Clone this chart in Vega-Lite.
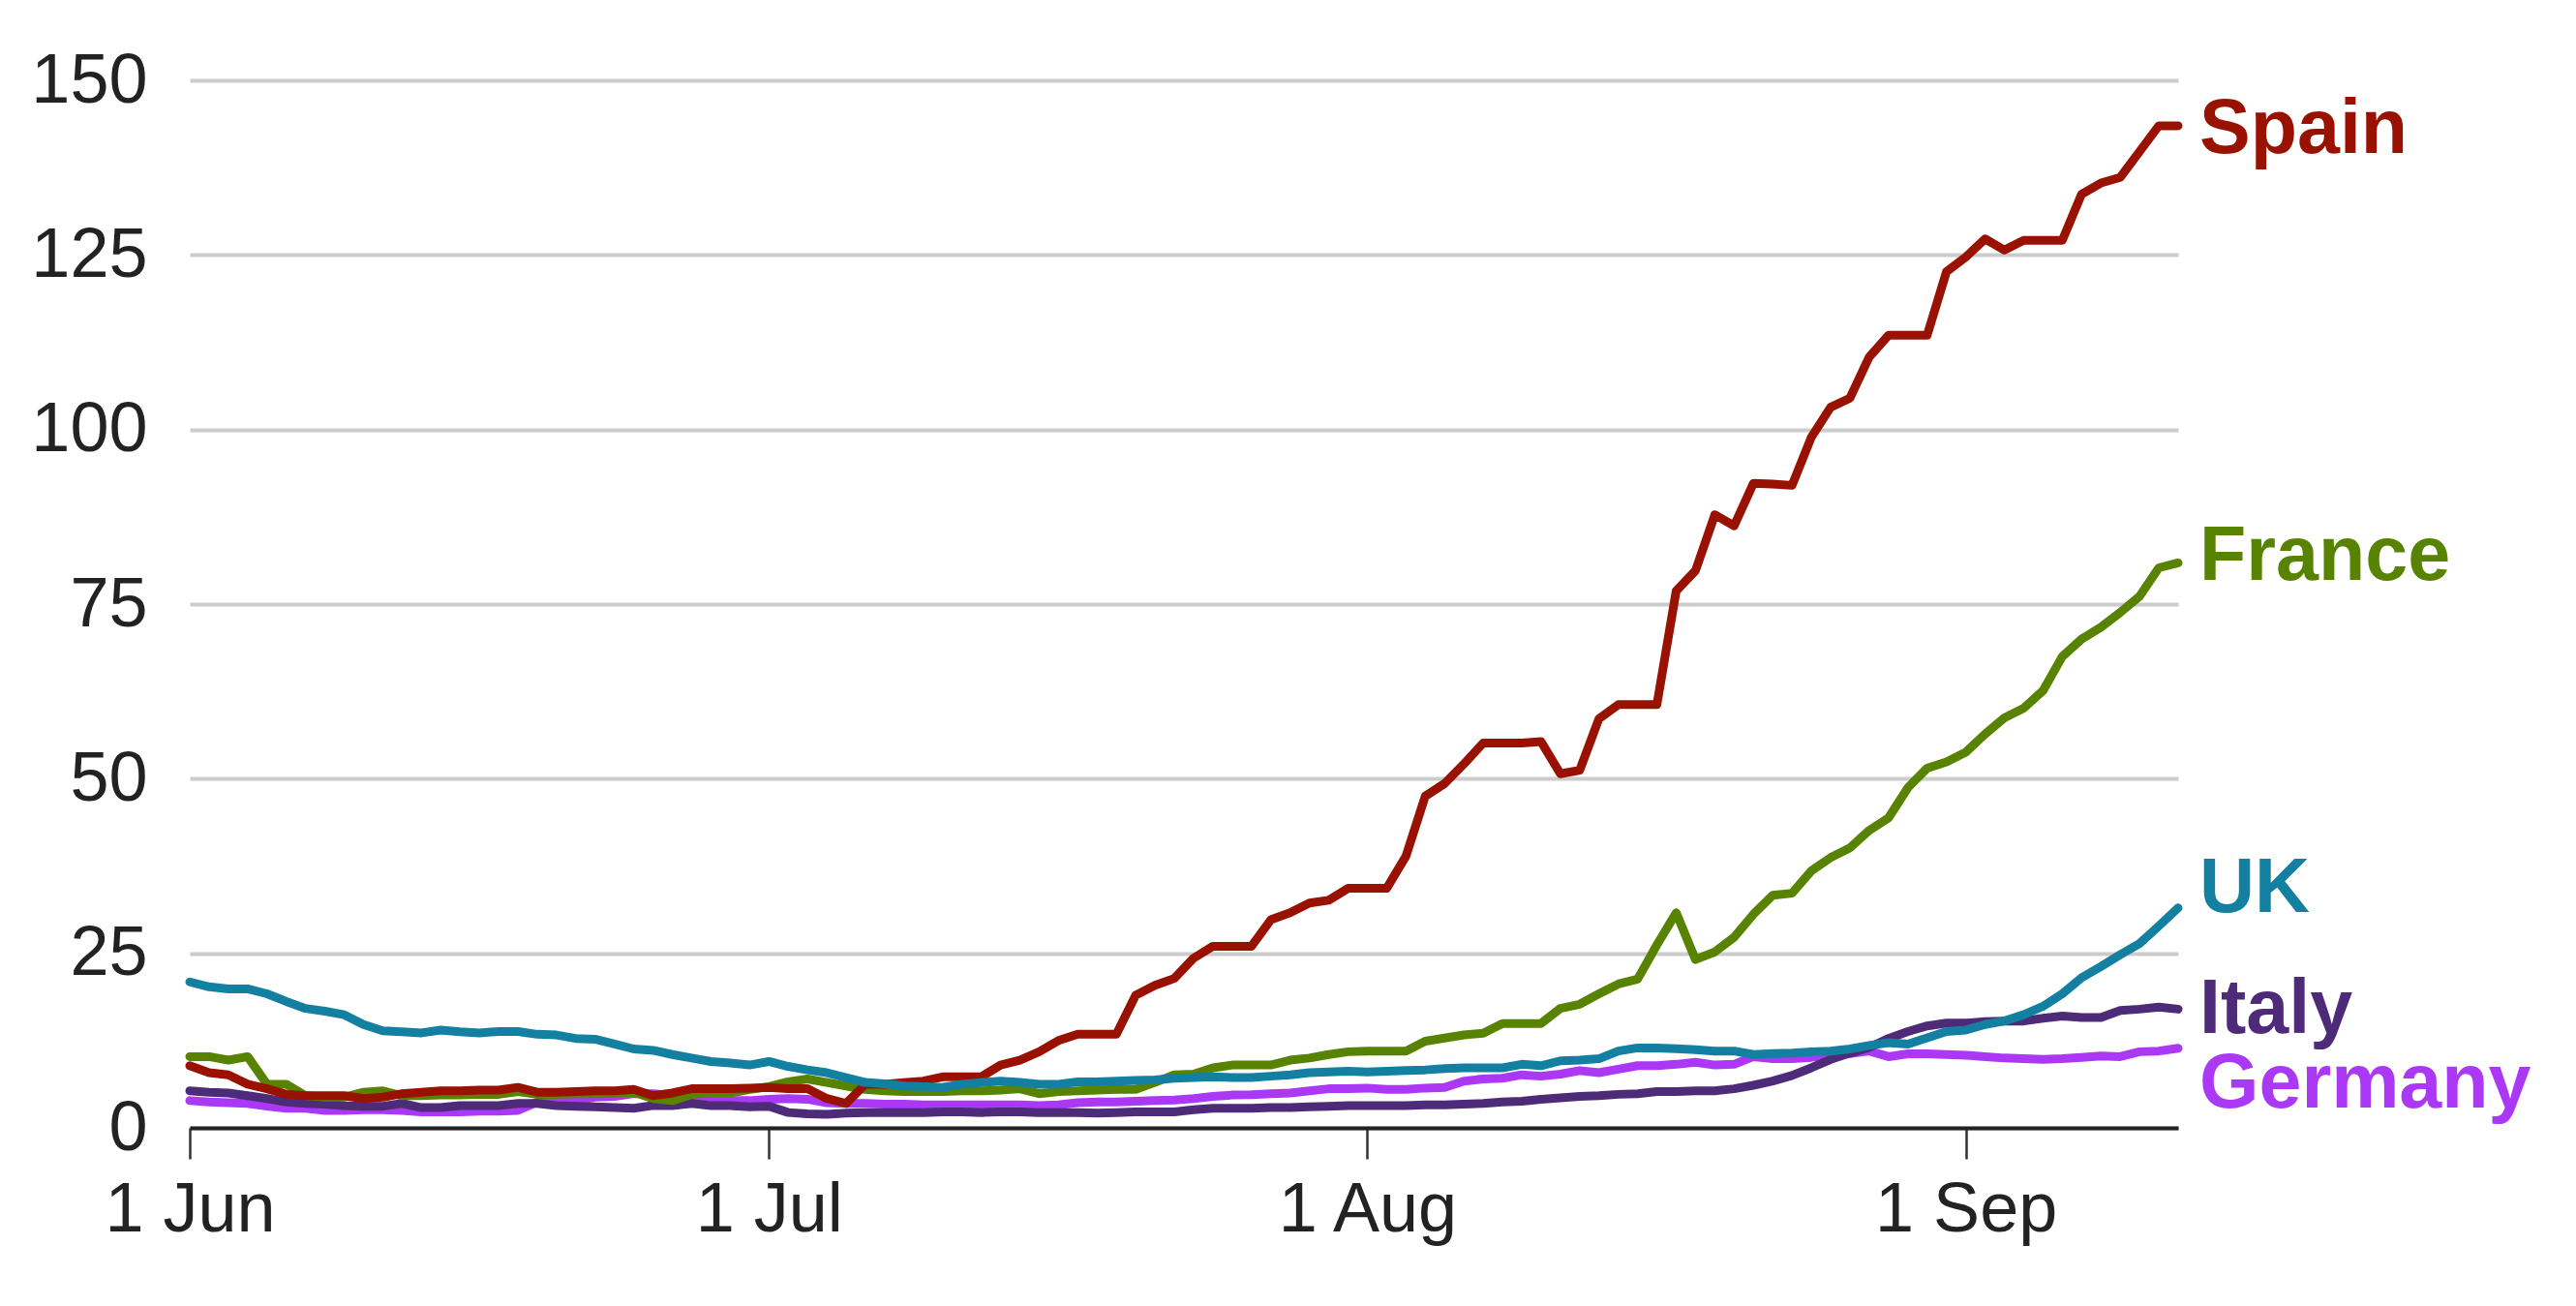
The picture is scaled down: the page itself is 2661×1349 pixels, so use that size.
{
  "$schema": "https://vega.github.io/schema/vega-lite/v6.json",
  "width": 2054,
  "height": 1082,
  "autosize": {"type": "none"},
  "padding": {"left": 196, "top": 83, "right": 411, "bottom": 184},
  "background": "white",
  "config": {"view": {"stroke": null}, "font": "Liberation Sans"},
  "data": {"values": [
    {"date":"2020-06-01","Spain":8.9,"France":10.2,"UK":20.9,"Italy":5.3,"Germany":3.9},
    {"date":"2020-06-02","Spain":7.9,"France":10.2,"UK":20.2,"Italy":5.1,"Germany":3.7},
    {"date":"2020-06-03","Spain":7.6,"France":9.7,"UK":19.9,"Italy":5.0,"Germany":3.6},
    {"date":"2020-06-04","Spain":6.25,"France":10.2,"UK":19.9,"Italy":4.6,"Germany":3.5},
    {"date":"2020-06-05","Spain":5.6,"France":6.25,"UK":19.2,"Italy":4.2,"Germany":3.1},
    {"date":"2020-06-06","Spain":4.8,"France":6.25,"UK":18.1,"Italy":3.7,"Germany":2.8},
    {"date":"2020-06-07","Spain":4.6,"France":4.6,"UK":17.1,"Italy":3.5,"Germany":2.8},
    {"date":"2020-06-08","Spain":4.6,"France":4.4,"UK":16.7,"Italy":3.4,"Germany":2.5},
    {"date":"2020-06-09","Spain":4.6,"France":4.4,"UK":16.2,"Italy":3.2,"Germany":2.5},
    {"date":"2020-06-10","Spain":4.2,"France":5.1,"UK":14.8,"Italy":3.1,"Germany":2.6},
    {"date":"2020-06-11","Spain":4.4,"France":5.3,"UK":13.9,"Italy":3.1,"Germany":2.6},
    {"date":"2020-06-12","Spain":4.9,"France":4.6,"UK":13.75,"Italy":3.5,"Germany":2.5},
    {"date":"2020-06-13","Spain":5.1,"France":4.6,"UK":13.6,"Italy":2.9,"Germany":2.3},
    {"date":"2020-06-14","Spain":5.3,"France":4.7,"UK":14.0,"Italy":2.9,"Germany":2.3},
    {"date":"2020-06-15","Spain":5.3,"France":4.7,"UK":13.75,"Italy":3.2,"Germany":2.3},
    {"date":"2020-06-16","Spain":5.4,"France":4.8,"UK":13.6,"Italy":3.2,"Germany":2.4},
    {"date":"2020-06-17","Spain":5.4,"France":4.8,"UK":13.8,"Italy":3.2,"Germany":2.4},
    {"date":"2020-06-18","Spain":5.8,"France":5.2,"UK":13.8,"Italy":3.5,"Germany":2.5},
    {"date":"2020-06-19","Spain":5.1,"France":4.8,"UK":13.4,"Italy":3.5,"Germany":3.7},
    {"date":"2020-06-20","Spain":5.1,"France":4.8,"UK":13.3,"Italy":3.2,"Germany":3.9},
    {"date":"2020-06-21","Spain":5.2,"France":4.9,"UK":12.8,"Italy":3.1,"Germany":3.9},
    {"date":"2020-06-22","Spain":5.3,"France":4.9,"UK":12.7,"Italy":3.0,"Germany":4.4},
    {"date":"2020-06-23","Spain":5.3,"France":5.0,"UK":12.0,"Italy":2.9,"Germany":4.5},
    {"date":"2020-06-24","Spain":5.5,"France":5.1,"UK":11.3,"Italy":2.8,"Germany":4.9},
    {"date":"2020-06-25","Spain":4.6,"France":4.2,"UK":11.1,"Italy":3.2,"Germany":4.9},
    {"date":"2020-06-26","Spain":5.0,"France":3.9,"UK":10.5,"Italy":3.2,"Germany":4.6},
    {"date":"2020-06-27","Spain":5.6,"France":4.8,"UK":10.0,"Italy":3.5,"Germany":4.5},
    {"date":"2020-06-28","Spain":5.6,"France":5.0,"UK":9.5,"Italy":3.2,"Germany":4.4},
    {"date":"2020-06-29","Spain":5.6,"France":5.0,"UK":9.3,"Italy":3.2,"Germany":3.9},
    {"date":"2020-06-30","Spain":5.7,"France":5.5,"UK":9.0,"Italy":3.0,"Germany":3.9},
    {"date":"2020-07-01","Spain":5.8,"France":5.9,"UK":9.5,"Italy":3.1,"Germany":4.1},
    {"date":"2020-07-02","Spain":5.6,"France":6.6,"UK":8.8,"Italy":2.2,"Germany":4.2},
    {"date":"2020-07-03","Spain":5.6,"France":7.0,"UK":8.3,"Italy":2.0,"Germany":4.1},
    {"date":"2020-07-04","Spain":4.2,"France":6.5,"UK":7.9,"Italy":1.95,"Germany":3.6},
    {"date":"2020-07-05","Spain":3.5,"France":6.0,"UK":7.2,"Italy":2.1,"Germany":3.5},
    {"date":"2020-07-06","Spain":6.25,"France":5.5,"UK":6.5,"Italy":2.2,"Germany":3.5},
    {"date":"2020-07-07","Spain":6.25,"France":5.3,"UK":6.3,"Italy":2.2,"Germany":3.4},
    {"date":"2020-07-08","Spain":6.5,"France":5.2,"UK":6.0,"Italy":2.2,"Germany":3.4},
    {"date":"2020-07-09","Spain":6.7,"France":5.2,"UK":5.9,"Italy":2.2,"Germany":3.3},
    {"date":"2020-07-10","Spain":7.3,"France":5.2,"UK":5.8,"Italy":2.3,"Germany":3.3},
    {"date":"2020-07-11","Spain":7.3,"France":5.3,"UK":6.25,"Italy":2.3,"Germany":3.3},
    {"date":"2020-07-12","Spain":7.3,"France":5.3,"UK":6.5,"Italy":2.2,"Germany":3.3},
    {"date":"2020-07-13","Spain":9.0,"France":5.4,"UK":6.7,"Italy":2.3,"Germany":3.3},
    {"date":"2020-07-14","Spain":9.7,"France":5.6,"UK":6.5,"Italy":2.3,"Germany":3.3},
    {"date":"2020-07-15","Spain":10.9,"France":4.9,"UK":6.25,"Italy":2.2,"Germany":3.2},
    {"date":"2020-07-16","Spain":12.5,"France":5.2,"UK":6.25,"Italy":2.2,"Germany":3.3},
    {"date":"2020-07-17","Spain":13.4,"France":5.3,"UK":6.6,"Italy":2.2,"Germany":3.6},
    {"date":"2020-07-18","Spain":13.4,"France":5.4,"UK":6.6,"Italy":2.1,"Germany":3.7},
    {"date":"2020-07-19","Spain":13.4,"France":5.5,"UK":6.7,"Italy":2.2,"Germany":3.7},
    {"date":"2020-07-20","Spain":19.0,"France":5.5,"UK":6.8,"Italy":2.3,"Germany":3.8},
    {"date":"2020-07-21","Spain":20.4,"France":6.5,"UK":6.85,"Italy":2.3,"Germany":3.9},
    {"date":"2020-07-22","Spain":21.4,"France":7.6,"UK":7.1,"Italy":2.3,"Germany":4.0},
    {"date":"2020-07-23","Spain":24.3,"France":7.7,"UK":7.2,"Italy":2.6,"Germany":4.2},
    {"date":"2020-07-24","Spain":26.0,"France":8.6,"UK":7.3,"Italy":2.8,"Germany":4.5},
    {"date":"2020-07-25","Spain":26.0,"France":9.0,"UK":7.2,"Italy":2.8,"Germany":4.7},
    {"date":"2020-07-26","Spain":26.0,"France":9.0,"UK":7.2,"Italy":2.8,"Germany":4.75},
    {"date":"2020-07-27","Spain":29.8,"France":9.0,"UK":7.4,"Italy":2.9,"Germany":4.9},
    {"date":"2020-07-28","Spain":30.8,"France":9.7,"UK":7.6,"Italy":2.9,"Germany":5.0},
    {"date":"2020-07-29","Spain":32.2,"France":10.0,"UK":7.9,"Italy":3.0,"Germany":5.3},
    {"date":"2020-07-30","Spain":32.6,"France":10.5,"UK":8.0,"Italy":3.1,"Germany":5.6},
    {"date":"2020-07-31","Spain":34.3,"France":10.9,"UK":8.1,"Italy":3.2,"Germany":5.6},
    {"date":"2020-08-01","Spain":34.3,"France":11.0,"UK":8.0,"Italy":3.2,"Germany":5.7},
    {"date":"2020-08-02","Spain":34.3,"France":11.0,"UK":8.1,"Italy":3.2,"Germany":5.5},
    {"date":"2020-08-03","Spain":38.9,"France":11.0,"UK":8.2,"Italy":3.2,"Germany":5.5},
    {"date":"2020-08-04","Spain":47.5,"France":12.4,"UK":8.3,"Italy":3.3,"Germany":5.7},
    {"date":"2020-08-05","Spain":49.3,"France":12.85,"UK":8.5,"Italy":3.3,"Germany":5.8},
    {"date":"2020-08-06","Spain":52.1,"France":13.3,"UK":8.6,"Italy":3.4,"Germany":6.7},
    {"date":"2020-08-07","Spain":55.1,"France":13.55,"UK":8.6,"Italy":3.5,"Germany":7.0},
    {"date":"2020-08-08","Spain":55.1,"France":14.95,"UK":8.6,"Italy":3.7,"Germany":7.1},
    {"date":"2020-08-09","Spain":55.1,"France":14.95,"UK":9.1,"Italy":3.8,"Germany":7.6},
    {"date":"2020-08-10","Spain":55.3,"France":14.95,"UK":8.9,"Italy":4.1,"Germany":7.4},
    {"date":"2020-08-11","Spain":50.7,"France":17.1,"UK":9.6,"Italy":4.3,"Germany":7.7},
    {"date":"2020-08-12","Spain":51.2,"France":17.7,"UK":9.7,"Italy":4.5,"Germany":8.2},
    {"date":"2020-08-13","Spain":58.6,"France":19.2,"UK":9.9,"Italy":4.6,"Germany":7.9},
    {"date":"2020-08-14","Spain":60.6,"France":20.6,"UK":11.0,"Italy":4.8,"Germany":8.4},
    {"date":"2020-08-15","Spain":60.6,"France":21.3,"UK":11.45,"Italy":4.9,"Germany":8.9},
    {"date":"2020-08-16","Spain":60.6,"France":26.2,"UK":11.45,"Italy":5.2,"Germany":8.9},
    {"date":"2020-08-17","Spain":76.9,"France":30.8,"UK":11.35,"Italy":5.2,"Germany":9.1},
    {"date":"2020-08-18","Spain":79.8,"France":24.1,"UK":11.2,"Italy":5.3,"Germany":9.4},
    {"date":"2020-08-19","Spain":87.8,"France":25.2,"UK":11.0,"Italy":5.3,"Germany":9.0},
    {"date":"2020-08-20","Spain":86.2,"France":27.3,"UK":11.0,"Italy":5.6,"Germany":9.1},
    {"date":"2020-08-21","Spain":92.3,"France":30.6,"UK":10.5,"Italy":6.1,"Germany":10.2},
    {"date":"2020-08-22","Spain":92.2,"France":33.3,"UK":10.65,"Italy":6.7,"Germany":9.9},
    {"date":"2020-08-23","Spain":92.0,"France":33.6,"UK":10.7,"Italy":7.5,"Germany":9.9},
    {"date":"2020-08-24","Spain":98.9,"France":36.8,"UK":10.9,"Italy":8.6,"Germany":10.1},
    {"date":"2020-08-25","Spain":103.2,"France":38.7,"UK":11.0,"Italy":9.8,"Germany":10.4},
    {"date":"2020-08-26","Spain":104.5,"France":40.1,"UK":11.3,"Italy":10.7,"Germany":10.65},
    {"date":"2020-08-27","Spain":110.4,"France":42.6,"UK":11.8,"Italy":11.5,"Germany":11.0},
    {"date":"2020-08-28","Spain":113.5,"France":44.4,"UK":12.2,"Italy":12.8,"Germany":10.2},
    {"date":"2020-08-29","Spain":113.5,"France":48.7,"UK":12.0,"Italy":13.8,"Germany":10.6},
    {"date":"2020-08-30","Spain":113.5,"France":51.5,"UK":12.9,"Italy":14.6,"Germany":10.6},
    {"date":"2020-08-31","Spain":122.6,"France":52.4,"UK":13.8,"Italy":15.0,"Germany":10.5},
    {"date":"2020-09-01","Spain":124.7,"France":53.8,"UK":14.0,"Italy":15.0,"Germany":10.4},
    {"date":"2020-09-02","Spain":127.3,"France":56.4,"UK":14.8,"Italy":15.2,"Germany":10.2},
    {"date":"2020-09-03","Spain":125.7,"France":58.7,"UK":15.3,"Italy":15.3,"Germany":10.0},
    {"date":"2020-09-04","Spain":127.1,"France":60.1,"UK":16.2,"Italy":15.3,"Germany":9.9},
    {"date":"2020-09-05","Spain":127.1,"France":62.6,"UK":17.4,"Italy":15.7,"Germany":9.8},
    {"date":"2020-09-06","Spain":127.1,"France":67.5,"UK":19.2,"Italy":16.0,"Germany":9.9},
    {"date":"2020-09-07","Spain":133.7,"France":70.0,"UK":21.5,"Italy":15.8,"Germany":10.1},
    {"date":"2020-09-08","Spain":135.3,"France":71.7,"UK":23.1,"Italy":15.8,"Germany":10.3},
    {"date":"2020-09-09","Spain":136.1,"France":73.8,"UK":24.8,"Italy":16.8,"Germany":10.2},
    {"date":"2020-09-10","Spain":139.8,"France":76.1,"UK":26.4,"Italy":17.0,"Germany":10.9},
    {"date":"2020-09-11","Spain":143.5,"France":80.2,"UK":28.9,"Italy":17.3,"Germany":11.0},
    {"date":"2020-09-12","Spain":143.5,"France":80.9,"UK":31.5,"Italy":17.0,"Germany":11.4}
  ]},
  "transform": [{"fold": ["Germany", "Italy", "France", "Spain", "UK"], "as": ["country", "value"]}],
  "encoding": {
    "x": {
      "field": "date", "type": "temporal",
      "scale": {"type": "utc", "domain": [{"year": 2020, "month": 6, "date": 1, "utc": true}, {"year": 2020, "month": 9, "date": 12, "utc": true}]},
      "axis": {
        "title": null,
        "values": [{"year": 2020, "month": 6, "date": 1, "utc": true}, {"year": 2020, "month": 7, "date": 1, "utc": true}, {"year": 2020, "month": 8, "date": 1, "utc": true}, {"year": 2020, "month": 9, "date": 1, "utc": true}],
        "labelExpr": "utcFormat(datum.value, '%-d %b')",
        "labelLimit": 0,
        "grid": false,
        "domainColor": "#222222", "domainWidth": 4,
        "tickColor": "#333333", "tickWidth": 2.5, "tickSize": 32,
        "labelFontSize": 72, "labelColor": "#222222", "labelPadding": 17,
        "labelFlush": false, "labelOverlap": false
      }
    },
    "y": {
      "field": "value", "type": "quantitative",
      "scale": {"domain": [0, 150], "nice": false},
      "axis": {
        "title": null,
        "values": [0, 25, 50, 75, 100, 125, 150],
        "domain": false, "ticks": false, "tickSize": 0,
        "grid": true, "gridColor": "#cbcbcb", "gridWidth": 4,
        "labelFontSize": 72, "labelColor": "#222222", "labelPadding": 44
      }
    },
    "color": {
      "field": "country", "type": "nominal",
      "scale": {"domain": ["Spain", "France", "UK", "Italy", "Germany"], "range": ["#991100", "#588300", "#1380a1", "#4d2b78", "#aa38f5"]},
      "legend": null
    }
  },
  "layer": [
    {"mark": {"type": "line", "strokeWidth": 9, "strokeCap": "round", "strokeJoin": "round"}, "encoding": {}},
    {
      "transform": [{"filter": "utcmonth(datum.date) == 8 && utcdate(datum.date) == 12 && datum.country == 'Spain'"}],
      "mark": {"type": "text", "align": "left", "baseline": "middle", "dx": 22, "dy": 4, "fontSize": 79, "fontWeight": "bold"},
      "encoding": {"text": {"field": "country"}}
    },
    {
      "transform": [{"filter": "utcmonth(datum.date) == 8 && utcdate(datum.date) == 12 && datum.country == 'Italy'"}],
      "mark": {"type": "text", "align": "left", "baseline": "middle", "dx": 22, "dy": 1, "fontSize": 79, "fontWeight": "bold"},
      "encoding": {"text": {"field": "country"}}
    },
    {
      "transform": [{"filter": "utcmonth(datum.date) == 8 && utcdate(datum.date) == 12 && datum.country == 'France'"}],
      "mark": {"type": "text", "align": "left", "baseline": "middle", "dx": 22, "dy": -6, "fontSize": 79, "fontWeight": "bold"},
      "encoding": {"text": {"field": "country"}}
    },
    {
      "transform": [{"filter": "utcmonth(datum.date) == 8 && utcdate(datum.date) == 12 && datum.country == 'UK'"}],
      "mark": {"type": "text", "align": "left", "baseline": "middle", "dx": 22, "dy": -20, "fontSize": 79, "fontWeight": "bold"},
      "encoding": {"text": {"field": "country"}}
    },
    {
      "transform": [{"filter": "utcmonth(datum.date) == 8 && utcdate(datum.date) == 12 && datum.country == 'Germany'"}],
      "mark": {"type": "text", "align": "left", "baseline": "middle", "dx": 22, "dy": 37, "fontSize": 79, "fontWeight": "bold"},
      "encoding": {"text": {"field": "country"}}
    }
  ]
}
